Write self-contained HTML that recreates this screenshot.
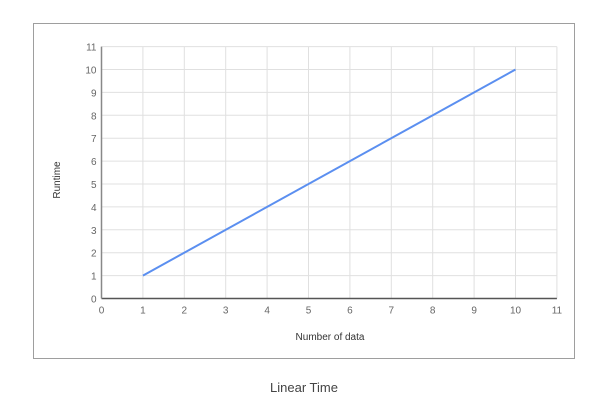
<!DOCTYPE html>
<html><head><meta charset="utf-8"><style>
body{margin:0;background:#fff;width:596px;height:402px;overflow:hidden;font-family:"Liberation Sans",Arial,sans-serif}
</style></head><body>
<svg width="596" height="402">
<rect x="33.5" y="23.5" width="541" height="335" fill="#fff" stroke="#9e9e9e"/>
<g id="grid"></g>
<g id="ticks" font-size="10" fill="#666"></g>
<polyline id="line" fill="none" stroke="#5b8ff0" stroke-width="2"/>
<text x="330" y="340" font-size="10" fill="#333" text-anchor="middle">Number of data</text>
<text x="60" y="180" font-size="10" fill="#333" text-anchor="middle" transform="rotate(-90 60 180)">Runtime</text>
<text x="304" y="392" font-size="13" fill="#444" text-anchor="middle">Linear Time</text>
</svg>
<script>
const xTicks=[0,1,2,3,4,5,6,7,8,9,10,11];
const yTicks=[0,1,2,3,4,5,6,7,8,9,10,11];
const xData=[1,10];
const yData=[1,10];
const X=v=>101.5+v*41.4, Y=v=>298.5-v*22.9;
const ns="http://www.w3.org/2000/svg";
const g=document.getElementById('grid'),t=document.getElementById('ticks');
function mk(tag,a,p){const e=document.createElementNS(ns,tag);for(const k in a)e.setAttribute(k,a[k]);p.appendChild(e);return e;}
xTicks.forEach(v=>{if(v>0){const l=mk('line',{x1:X(v),x2:X(v),y1:Y(11),y2:Y(0),stroke:'#e0e0e0'},g);

}
const s=mk('text',{x:X(v),y:Y(0)+15,'text-anchor':'middle'},t);s.textContent=v;

});
yTicks.forEach(v=>{if(v>0){const l=mk('line',{x1:X(0),x2:X(11),y1:Y(v),y2:Y(v),stroke:'#e0e0e0'},g);

}
const s=mk('text',{x:X(0)-5,y:Y(v)+4,'text-anchor':'end'},t);s.textContent=v;

});
const ax=mk('line',{x1:X(0),x2:X(11),y1:Y(0),y2:Y(0),stroke:'#555','stroke-width':1.5},g);


const ay=mk('line',{x1:X(0),x2:X(0),y1:Y(0),y2:Y(11),stroke:'#888','stroke-width':1.5},g);


document.getElementById('line').setAttribute('points',xData.map((v,i)=>X(v)+','+Y(yData[i])).join(' '));
</script>
</body></html>
